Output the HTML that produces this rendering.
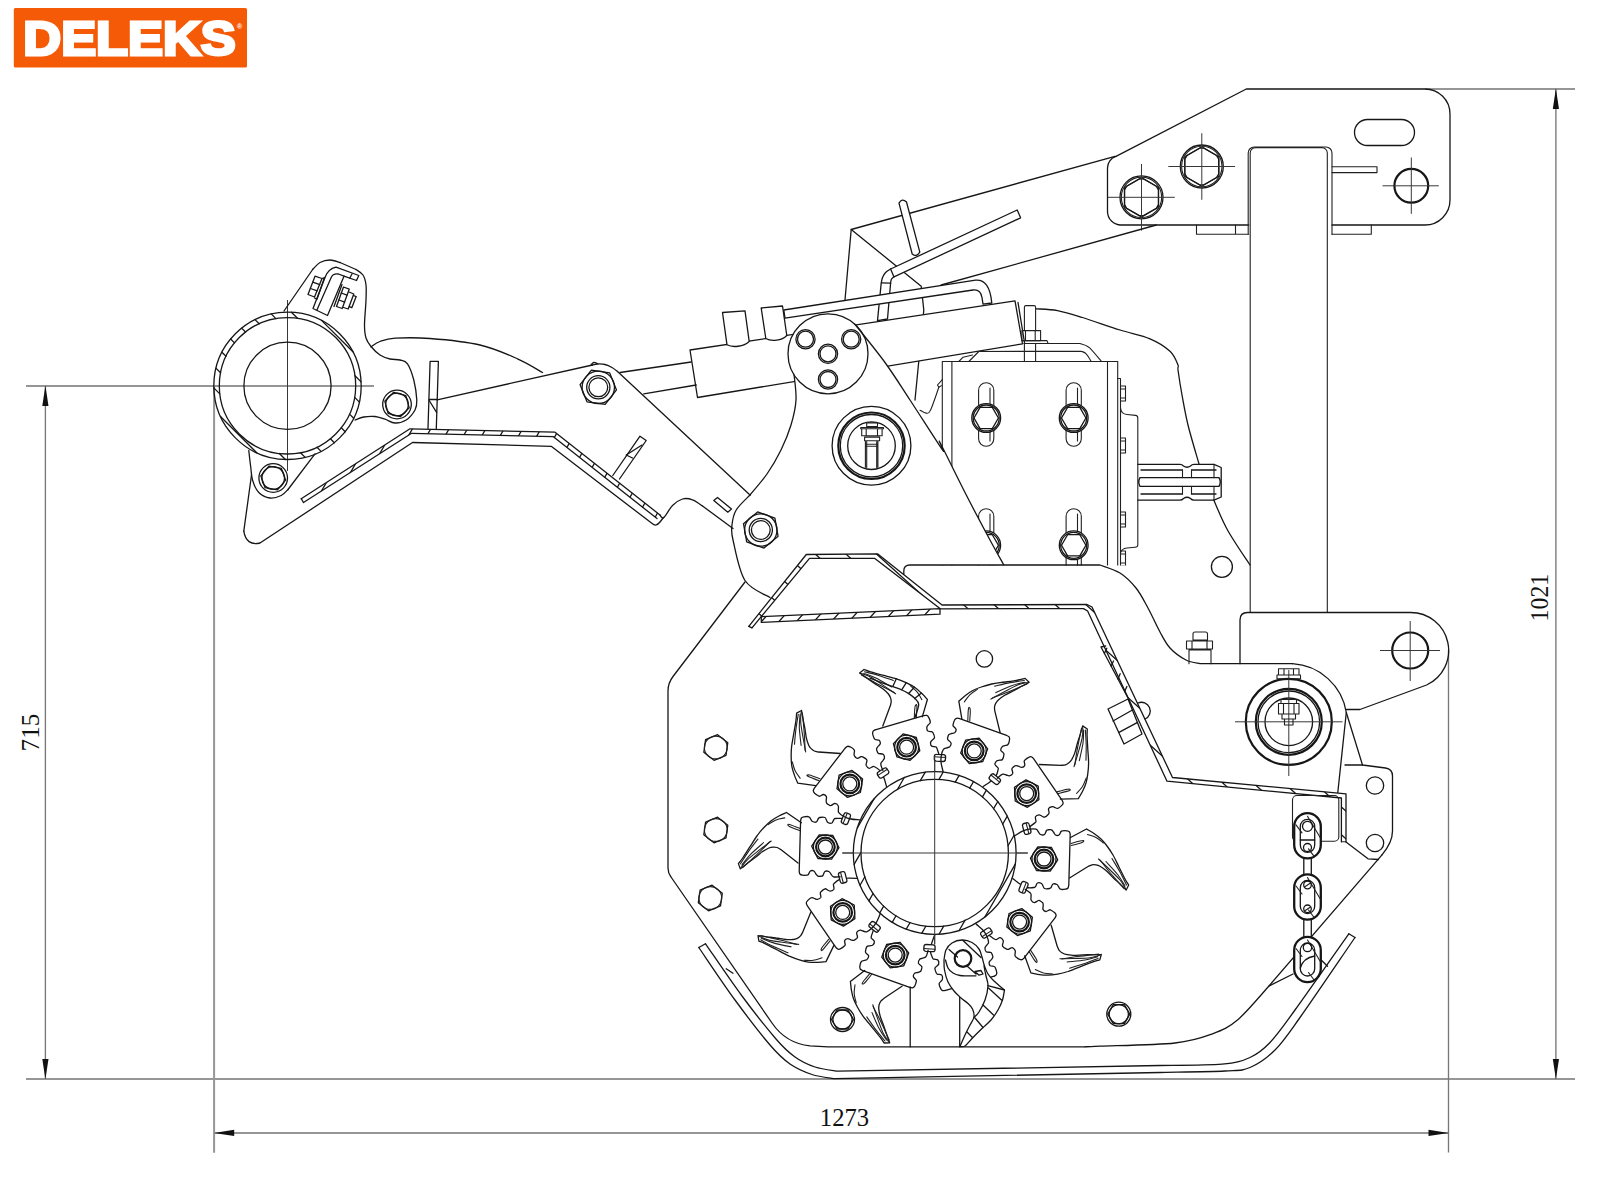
<!DOCTYPE html>
<html><head><meta charset="utf-8"><title>DELEKS</title>
<style>
html,body{margin:0;padding:0;background:#fff;}
body{width:1600px;height:1200px;overflow:hidden;position:relative;font-family:"Liberation Sans",sans-serif;}
svg{position:absolute;left:0;top:0;display:block;}
svg path, svg circle, svg rect, svg ellipse{fill:none;stroke:#161616;stroke-width:1.3;stroke-linecap:round;stroke-linejoin:round;}
svg .w{fill:#fff;}
svg .th{stroke-width:1.1;stroke:#202020;}
svg .dim{stroke:#969696;stroke-width:2;stroke-linecap:butt;}
svg .dimv{stroke:#787878;stroke-width:1.35;stroke-linecap:butt;}
svg .cl{stroke:#383838;stroke-width:1;stroke-linecap:butt;}
svg .tk{stroke-width:2.2;}
svg .arrow{fill:#111;stroke:none;}
svg .logo{fill:#f55a06;stroke:none;}
svg text{font-family:"Liberation Serif",serif;fill:#111;}
svg .lt{font-family:"Liberation Sans",sans-serif;font-weight:bold;fill:#fff;}
</style></head><body>
<svg width="1600" height="1200" viewBox="0 0 1600 1200">
<!-- p_base -->
<rect class="logo" x="13.8" y="8.1" width="233.2" height="59.3" rx="1.5"/>
<text class="lt" x="23.3" y="55.4" font-size="47.3" textLength="212.5" lengthAdjust="spacingAndGlyphs" stroke="#fff" stroke-width="3" stroke-linejoin="miter">DELEKS</text>
<text class="lt" x="237" y="28.5" font-size="7" stroke="none">®</text>
<path class="dim" d="M26 386 L374 386 M26 1079 L1575 1079 M214.1 1132.9 L1448.5 1132.9 M1425 89 L1575 89 M214.1 386 L214.1 1152.8"/>
<path class="dimv" d="M45.4 386 L45.4 1079 M1448.5 650 L1448.5 1152.5 M1555.9 89 L1555.9 1079"/>
<path class="arrow" d="M45.4 385.6 L48.5 405.9 L42.3 405.9 Z"/>
<path class="arrow" d="M45.4 1079.3 L42.3 1059 L48.5 1059 Z"/>
<path class="arrow" d="M1555.9 88.6 L1559 108.9 L1552.8 108.9 Z"/>
<path class="arrow" d="M1555.9 1079.3 L1552.8 1059 L1559 1059 Z"/>
<path class="arrow" d="M213.9 1132.9 L234.2 1129.8 L234.2 1136 Z"/>
<path class="arrow" d="M1448.8 1132.9 L1428.5 1136 L1428.5 1129.8 Z"/>
<text x="844.5" y="1125.8" font-size="26" text-anchor="middle" textLength="49.3" lengthAdjust="spacingAndGlyphs">1273</text>
<text transform="translate(38.8 732.6) rotate(-90)" font-size="26" text-anchor="middle" textLength="37.6" lengthAdjust="spacingAndGlyphs">715</text>
<text transform="translate(1548.2 597.6) rotate(-90)" font-size="26" text-anchor="middle" textLength="47.6" lengthAdjust="spacingAndGlyphs">1021</text>
<!-- p_roller -->
<path class="cl" d="M287.5 300 L287.5 471"/>
<circle cx="287.5" cy="385.8" r="73.7"/>
<circle cx="287.5" cy="385.8" r="68.2"/>
<circle cx="287.5" cy="385.8" r="43.6"/>
<path d="M321.5 320.4 L352.9 351.8 M291.4 312.2 L297.5 318.3 M355 375.8 L361.1 381.9 M271.2 313.9 L275.9 318.6 M354.7 397.4 L359.4 402.1 M255 319.6 L259.2 323.8 M349.5 414.1 L353.7 418.3 M241.6 328.1 L245.5 332 M341.3 427.8 L345.2 431.7 M230.6 339 L234.5 342.9 M330.4 438.8 L334.3 442.7 M221.9 352.2 L226 356.3 M317 447.3 L321.1 451.4 M215.9 368.1 L220.6 372.8 M300.5 452.7 L305.2 457.4 M213.8 387.9 L219.8 393.9 M279.4 453.5 L285.4 459.5 M220.5 416.5 L256.8 452.8"/>
<path d="M284 311 L313 269"/>
<path d="M313 269 C314.2 267.9 317.2 264 320 262.5 C322.8 261 326.7 260 330 260 C333.3 260 338.3 262.1 340 262.5"/>
<path d="M340 262.5 L356 269.5"/>
<path d="M356 269.5 C357.2 270.4 361.3 272.4 363 275 C364.7 277.6 365.5 280.8 366 285 C366.5 289.2 366.2 293.3 366 300 C365.8 306.7 364.5 318.7 364.5 325 C364.5 331.3 364.9 334.4 366 338 C367.1 341.6 368.7 343.7 371 346.5 C373.3 349.3 376.8 352.9 380 355 C383.2 357.1 386.7 358.2 390 359 C393.3 359.8 397.1 359.2 400 360 C402.9 360.8 405.2 360.4 407.5 363.8 C409.8 367.1 412.2 374 413.8 380 C415.3 386 416.5 395 416.8 400 C417 405 416.8 406.7 415 410 C413.2 413.3 409.6 417.8 406.2 420 C402.9 422.2 398.5 423.1 395 423 C391.5 422.9 388.3 420.3 385 419.2 C381.7 418.2 378.5 416.9 375 416.5 C371.5 416.1 367.1 416.4 363.8 417 C360.4 417.6 356.5 419.5 355 420"/>
<circle cx="397" cy="404.5" r="14.3"/>
<circle cx="397" cy="404.5" r="11.3"/>
<path d="M409.2 407.8 L400.3 416.7 L388.1 413.4 L384.8 401.2 L393.7 392.3 L405.9 395.6Z"/>
<path d="M313 308.5 L325 277.5 Q328 269 336 267.2 L358.8 275.5 L356.5 280.5 L344 276.2 L327.5 315.5 Z"/>
<path d="M316.8 310.2 L331.2 277.5 Q333 273.2 338.5 274 L344 276.2"/>
<path d="M352 274 L349.7 278.2"/>
<path d="M315 276.2 L322 278.5 L314.5 297 L308 294.5Z"/>
<path d="M312.8 282.2 L319.8 284.6M310.5 288.5 L317.2 290.8"/>
<path d="M322 278.5 L324.5 277.5 L317 299.2 L314.5 298"/>
<path d="M343.5 287 L349.2 289.2 L342.2 308.5 L336.5 306.5Z"/>
<path d="M341.2 293 L347 295.2M339 300 L344.6 302.2"/>
<path d="M342 284.5 L334 306.5"/>
<path d="M349 292 L353.8 294 L348.2 309 L343.5 307.5"/>
<path d="M353.5 295.5 L356.2 296.6 L351.8 307.7 L349.2 306.7"/>
<path d="M248.8 450.5 C249.1 453.3 250.1 462.6 250.8 467.5 C251.4 472.4 251.2 475.8 252.5 480 C253.8 484.2 255.8 489.5 258.8 492.5 C261.7 495.5 266.2 497.5 270 498 C273.8 498.5 278.2 496.9 281.2 495.5 C284.2 494.1 286.9 490.5 288 489.5"/>
<path d="M288 489.5 L315 453.8"/>
<circle cx="273.2" cy="478" r="14.3"/>
<circle cx="273.2" cy="478" r="11.3"/>
<path d="M285.6 480.2 L277.5 489.8 L265.1 487.7 L260.8 475.8 L268.9 466.2 L281.3 468.3Z"/>
<path d="M251.5 475 L243.8 531.2"/>
<!-- p_hood -->
<path d="M301.2 498.7 L410 428.8 L555 432.2 L660 515"/>
<path d="M303.5 502.5 L411.6 433.3 L553.4 436.7 L657 518.6"/>
<path d="M301.2 498.7 L303.5 502.5"/>
<clipPath id="hc1"><path d="M301.2 498.7 L410 428.8 L555 432.2 L660 515 L657 518.6 L553.4 436.7 L411.6 433.3 L303.5 502.5Z"/></clipPath><path clip-path="url(#hc1)" d="M233.9 547.1 L420.9 223.4 M247.7 555.1 L434.6 231.3 M261.5 563 L448.4 239.3 M275.3 571 L462.2 247.2 M289 578.9 L476 255.2 M302.8 586.9 L489.7 263.1 M316.6 594.8 L503.5 271.1 M330.3 602.8 L517.3 279 M344.1 610.7 L531 287 M357.9 618.7 L544.8 294.9 M371.6 626.6 L558.6 302.9 M385.4 634.6 L572.3 310.8 M399.2 642.5 L586.1 318.8 M412.9 650.5 L599.9 326.7 M426.7 658.4 L613.7 334.7 M440.5 666.4 L627.4 342.6 M454.3 674.3 L641.2 350.6 M468 682.3 L655 358.5 M481.8 690.2 L668.7 366.5 M495.6 698.2 L682.5 374.4 M509.3 706.1 L696.3 382.4 M523.1 714.1 L710 390.3 M536.9 722 L723.8 398.3"/>
<path d="M243.8 531.2 Q246.2 546.2 260 543 L412.5 442.5 L551.2 446.3 L652.5 523.8 Q656 527 660 522 L663.5 517.5"/>
<path d="M428 428.5 L430.1 361.3 L438.4 361.3 L436.3 428.7"/>
<path d="M429.2 399.5 L437.2 399.5 M429.2 400.5 L436.6 412.4"/>
<path d="M371 346.8 C372.5 345.9 376 342.9 380 341.5 C384 340.1 386.7 338.7 395 338.2 C403.3 337.7 415.8 337.4 430 338.5 C444.2 339.6 465.4 341.6 480 345 C494.6 348.4 507.1 354.2 517.5 358.8 C527.9 363.3 538.3 370.2 542.5 372.5"/>
<path d="M612.8 475.5 L640 436.2 L646.2 440.5 L619.5 479"/>
<path d="M626.2 455 L632.5 458M626.2 455 L642 445"/>
<!-- p_top -->
<path d="M1116 156.4 L1246.3 89 L1425 89 A25 25 0 0 1 1450 114 L1450 200 A25 25 0 0 1 1425 225 L1332 225"/>
<path d="M1248.7 225 L1121 225 A13.5 13.5 0 0 1 1107.5 211.5 L1107.5 168 A12 12 0 0 1 1116 156.4"/>
<path class="th" d="M1250.2 612.5 L1250.2 153 A5.5 5.5 0 0 1 1255.7 147.6 L1321.8 147.6 A5.5 5.5 0 0 1 1327.3 153 L1327.3 612.5"/>
<path class="th" d="M1248.2 234 L1248.2 153 A6 6 0 0 1 1254.2 147 L1326 147 A6 6 0 0 1 1332 153 L1332 234.3"/>
<path class="th" d="M1248.7 234.2 L1196.5 234.2 L1196.5 225 M1235.5 225 L1235.5 234.2"/>
<path class="th" d="M1332 234.3 L1371.3 234.3 L1371.3 225"/>
<path class="th" d="M1332 166.8 L1377 166.8 L1377 172.6 L1332 172.6"/>
<rect x="1354.5" y="119.5" width="60" height="26" rx="13"/>
<circle class="tk" cx="1411.3" cy="185.8" r="16.9"/>
<path class="cl" d="M1382.5 185.8 L1438.8 185.8 M1411.3 157.5 L1411.3 213.8"/>
<circle cx="1141.5" cy="197.3" r="21.5"/>
<circle class="th" cx="1141.5" cy="197.3" r="20.2"/>
<path class="th" d="M1141.5 177.6 L1158.6 187.5 L1158.6 207.2 L1141.5 217 L1124.4 207.2 L1124.4 187.5Z"/>
<path d="M1158.4 190 L1158.4 204.6 A18.4 18.4 0 0 1 1156.3 208.3 L1143.6 215.6 A18.4 18.4 0 0 1 1139.4 215.6 L1126.7 208.3 A18.4 18.4 0 0 1 1124.6 204.6 L1124.6 190 A18.4 18.4 0 0 1 1126.7 186.3 L1139.4 179 A18.4 18.4 0 0 1 1143.6 179 L1156.3 186.3 A18.4 18.4 0 0 1 1158.4 190 Z"/>
<path class="cl" d="M1108 197.3 L1174.8 197.3 M1141.5 164 L1141.5 230.6"/>
<circle cx="1201.8" cy="166.5" r="21.5"/>
<circle class="th" cx="1201.8" cy="166.5" r="20.2"/>
<path class="th" d="M1201.8 146.8 L1218.9 156.7 L1218.9 176.3 L1201.8 186.2 L1184.7 176.3 L1184.7 156.7Z"/>
<path d="M1218.7 159.2 L1218.7 173.8 A18.4 18.4 0 0 1 1216.6 177.5 L1203.9 184.8 A18.4 18.4 0 0 1 1199.7 184.8 L1187 177.5 A18.4 18.4 0 0 1 1184.9 173.8 L1184.9 159.2 A18.4 18.4 0 0 1 1187 155.5 L1199.7 148.2 A18.4 18.4 0 0 1 1203.9 148.2 L1216.6 155.5 A18.4 18.4 0 0 1 1218.7 159.2 Z"/>
<path class="cl" d="M1168.3 166.5 L1235.1 166.5 M1201.8 133.2 L1201.8 199.8"/>
<!-- p_cyl -->
<path d="M1115 156.3 L851.2 229.5 L845 300"/>
<path d="M851.2 229.5 L921.2 286.2 L923.8 310 L915 400"/>
<path d="M1156.3 225 L941.2 285"/>
<path class="w" d="M899 203.1 L912.2 254 Q916.5 257.5 919.8 252.2 L906.5 202 Q901.9 197.8 899 203.1 Z"/>
<path class="w" d="M1017.2 210 L890.6 269 C889.8 269.6 887 271.1 885.6 272.5 C884.3 273.9 883.2 275.7 882.5 277.5 C881.8 279.3 881.5 282.2 881.2 283.1 L877.5 320.6 L887.5 319 L890.6 283.1 C890.7 282.6 890.9 280.6 891.2 279.8 C891.6 278.9 892.3 278.2 892.8 277.8 C893.2 277.3 893.8 277 894 276.9 L1020.6 217.8 Z"/>
<path d="M890.6 269 L894 276.9M881.5 282.8 L890.6 283.2"/>
<path class="w" d="M783.8 310 L975.5 280.2 Q989.5 278.8 991.8 303 L983 304.2 L982 297.5 Q980.5 289 973 290 L785 318.2 Z"/>
<path class="w" d="M690 350 L1015 300.8 L1022.5 343.8 L697.5 397.5Z"/>
<path d="M1018 302.5 L1024.5 342.5"/>
<path class="w" d="M727 344.8 L722.5 312.5 L745 310.8 L749.2 341.5 C743.8 346.8 732.5 347.8 727 344.8"/>
<path class="w" d="M765.8 338.5 L761.2 308 L782.5 306 L786.8 335.5 C782 340.8 771.2 341.8 765.8 338.5"/>
<path d="M620 372.5 L691.2 362M643.8 393.8 L696.2 385"/>
<!-- p_gearbox -->
<path d="M1036.2 308.8 C1039.8 309.1 1049.8 309.2 1057.5 310.6 C1065.2 312.1 1072.1 314.3 1082.5 317.5 C1092.9 320.7 1108.8 326.5 1120 330 C1131.2 333.5 1141.7 335.2 1150 338.8 C1158.3 342.3 1165.3 346.9 1170 351.2 C1174.7 355.6 1176.7 361.9 1178 365 C1179.3 368.1 1177.3 365 1178 370 C1178.7 375 1180.3 385.8 1182 395 C1183.7 404.2 1185.2 413.5 1188 425 C1190.8 436.5 1197.2 457.5 1199 464"/>
<path d="M1213.8 500 C1216 505 1221.5 519.2 1227.5 530 C1233.5 540.8 1246.2 559.2 1250 565"/>
<path class="th" d="M1024.4 330.6 L1024.4 307 Q1024.4 305.6 1026 305.6 L1034 305.6 Q1035.6 305.6 1035.6 307 L1035.6 330.6"/>
<path class="th" d="M1021.9 330.6 L1040.6 330.6 L1040.6 340.6 L1021.9 340.6 Z M1035.2 330.6 L1035.2 340.6 M1025.5 330.6 L1025.5 340.6"/>
<path class="th" d="M1022.5 340.6 L1047 340.6 L1048 343.2"/>
<path class="th" d="M1024.4 343.8 L1024.4 361.5 M1035.6 343.8 L1035.6 361.5"/>
<path class="th" d="M1023.8 343.5 L1080 343.5 C1081.5 344.1 1085.2 344.3 1088.8 347.2 C1092.3 350.2 1099.2 358.9 1101.2 361.2"/>
<path class="th" d="M968.8 361.5 L978.8 351.5 L1081.2 351.2 C1082.1 351.7 1084.6 352 1086.2 353.8 C1087.9 355.5 1090.4 360.2 1091.2 361.5"/>
<path class="th" d="M958.8 361.5 L963.1 357.2 L972.5 355"/>
<path class="th" d="M942.3 575 L942.3 361.5 L1117.7 361.5 L1117.7 575 M951.9 361.5 L951.9 575 M1107.5 361.5 L1107.5 575"/>
<path class="th" d="M978.6 438.7 L978.6 390.3 A7.6 7.6 0 0 1 993.8 390.3 L993.8 438.7 A7.6 7.6 0 0 1 978.6 438.7 Z"/>
<path class="th" d="M990 388 L990 441"/>
<path class="th" d="M978.6 566.4 L978.6 516.3 A7.6 7.6 0 0 1 993.8 516.3 L993.8 566.4 A7.6 7.6 0 0 1 978.6 566.4 Z"/>
<path class="th" d="M990 514 L990 570"/>
<circle class="w" cx="986.2" cy="418" r="14.4"/>
<circle cx="986.2" cy="418" r="13"/>
<path d="M998.4 418 L992.3 428.6 L980.1 428.6 L974 418 L980.1 407.4 L992.3 407.4Z"/>
<circle class="w" cx="986.2" cy="545.3" r="14.4"/>
<circle cx="986.2" cy="545.3" r="13"/>
<path d="M998.4 545.3 L992.3 555.9 L980.1 555.9 L974 545.3 L980.1 534.7 L992.3 534.7Z"/>
<path class="th" d="M1066.1 438.7 L1066.1 390.3 A7.6 7.6 0 0 1 1081.3 390.3 L1081.3 438.7 A7.6 7.6 0 0 1 1066.1 438.7 Z"/>
<path class="th" d="M1077.5 388 L1077.5 441"/>
<path class="th" d="M1066.1 566.4 L1066.1 516.3 A7.6 7.6 0 0 1 1081.3 516.3 L1081.3 566.4 A7.6 7.6 0 0 1 1066.1 566.4 Z"/>
<path class="th" d="M1077.5 514 L1077.5 570"/>
<circle class="w" cx="1073.7" cy="418" r="14.4"/>
<circle cx="1073.7" cy="418" r="13"/>
<path d="M1085.9 418 L1079.8 428.6 L1067.6 428.6 L1061.5 418 L1067.6 407.4 L1079.8 407.4Z"/>
<circle class="w" cx="1073.7" cy="545.3" r="14.4"/>
<circle cx="1073.7" cy="545.3" r="13"/>
<path d="M1085.9 545.3 L1079.8 555.9 L1067.6 555.9 L1061.5 545.3 L1067.6 534.7 L1079.8 534.7Z"/>
<path class="th" d="M1117.7 378.5 L1120.5 378.5 L1120.5 575"/>
<path class="th" d="M1120.5 386 L1125.5 386 L1125.5 401 L1120.5 401 M1120.5 389 L1125.5 389 M1120.5 398 L1125.5 398"/>
<path class="th" d="M1120.5 438 L1125.5 438 L1125.5 453 L1120.5 453 M1120.5 441 L1125.5 441 M1120.5 450 L1125.5 450"/>
<path class="th" d="M1120.5 512 L1125.5 512 L1125.5 527 L1120.5 527 M1120.5 515 L1125.5 515 M1120.5 524 L1125.5 524"/>
<path class="th" d="M1120.5 551 L1125.5 551 L1125.5 566 L1120.5 566 M1120.5 554 L1125.5 554 M1120.5 563 L1125.5 563"/>
<path class="th" d="M1120.5 408 Q1121 414 1127 414.5 L1135.5 415.4 Q1137.8 415.6 1137.8 418 L1137.8 545 Q1137.8 547 1135 547.3 L1127 548 Q1121.5 548.5 1120.5 553"/>
<path d="M1137.8 464.3 L1180 464.3 Q1182 464.3 1183.5 466 Q1187 468.5 1190.5 466 Q1192 464.3 1194 464.3 L1214 464.3 L1221.2 467.5 L1221.2 497 L1214 500.2 L1194 500.2 Q1192 500.2 1190.5 498.5 Q1187 496 1183.5 498.5 Q1182 500.2 1180 500.2 L1137.8 500.2"/>
<path d="M1141 470 L1182.5 470 M1191.5 470 L1216 470 M1141 494 L1182.5 494 M1191.5 494 L1216 494"/>
<path d="M1140 477.6 L1219 477.6 Q1221.5 482 1219 486.4 L1140 486.4 Q1137.5 482 1140 477.6"/>
<path class="th" d="M1182.5 470 L1182.5 477.6 M1191.5 470 L1191.5 477.6 M1182.5 486.4 L1182.5 494 M1191.5 486.4 L1191.5 494 M1214 464.3 L1214 477.6 M1214 486.4 L1214 500.2"/>
<circle cx="1221.9" cy="566.8" r="10.5"/>
<path class="th" d="M942.5 379.4 L937.5 385 L938.8 387.2 L941.5 385.6"/>
<path class="th" d="M938.8 387.5 C937.4 391.2 932.7 405.7 930.6 410 C928.5 414.3 928 413.1 926.2 413.1 C924.5 413.2 921 410.7 920 410.2"/>
<!-- p_plate -->
<path d="M794.1 375 C794.4 379.2 796.5 391.7 796 400 C795.5 408.3 793.5 416.7 791 425 C788.5 433.3 785 441.8 781 450 C777 458.2 772.2 466.5 767 474 C761.8 481.5 752.8 491.5 750 495 C747.7 497.5 739.2 505 736.2 510 C733.2 515 732.5 520 732 525 C731.5 530 730.8 530.8 733 540 C735.2 549.2 738.8 570.9 745 580.5 C751.2 590.1 765.8 594.7 770 597.5 L806.3 554.5 L877.5 553.8 L905 575 L905 565 L1003.8 565 C1001.5 560.8 996.5 552.1 990 540 C983.5 527.9 973.3 508.8 965 492.5 C956.7 476.2 943.8 449.6 940 442.5 C936.2 435.4 947.5 457.1 942.5 450 C937.5 442.9 919.6 414.6 910 400 C900.4 385.4 894.2 375.2 885 362.5 C875.8 349.8 859.8 330.5 854.8 324.1 A40 40 0 0 0 794.1 375 Z" style="fill:#fff;stroke:none"/>
<path d="M794.1 375 C794.4 379.2 796.5 391.7 796 400 C795.5 408.3 793.5 416.7 791 425 C788.5 433.3 785 441.8 781 450 C777 458.2 772.2 466.5 767 474 C761.8 481.5 752.8 491.5 750 495"/>
<path d="M750 495 C747.7 497.5 739.2 505 736.2 510 C733.2 515 732.5 520 732 525 C731.5 530 730.8 530.8 733 540 C735.2 549.2 738.8 570.9 745 580.5 C751.2 590.1 765.8 594.7 770 597.5"/>
<path d="M854.8 324.1 C859.8 330.5 875.8 349.8 885 362.5 C894.2 375.2 900.4 385.4 910 400 C919.6 414.6 937.5 442.9 942.5 450 C947.5 457.1 936.2 435.4 940 442.5 C943.8 449.6 956.7 476.2 965 492.5 C973.3 508.8 983.5 527.9 990 540 C996.5 552.1 1001.5 560.8 1003.8 565"/>
<circle cx="828" cy="353.8" r="40"/>
<circle cx="805.5" cy="339.2" r="9.6"/>
<circle cx="805.5" cy="339.2" r="8"/>
<circle cx="851.2" cy="339.2" r="9.6"/>
<circle cx="851.2" cy="339.2" r="8"/>
<circle cx="828" cy="353.8" r="9.6"/>
<circle cx="828" cy="353.8" r="8"/>
<circle cx="828" cy="379.5" r="9.6"/>
<circle cx="828" cy="379.5" r="8"/>
<path d="M778.1 536.3 L764 548.1 L746.7 541.8 L743.5 523.7 L757.6 511.9 L774.9 518.2Z"/>
<circle cx="760.8" cy="530" r="16.2"/>
<circle cx="760.8" cy="530" r="11.6"/>
<circle cx="760.8" cy="530" r="9.4"/>
<circle class="w" cx="871.5" cy="445.7" r="39.4"/>
<circle class="tk" cx="871.5" cy="445.7" r="33.2"/>
<circle cx="871.5" cy="445.7" r="31.2"/>
<circle cx="871.5" cy="445.7" r="23.8"/>
<path class="th" d="M866.7 422.9 L877.5 422.9 L877.5 426.5 L866.7 426.5 ZM860.7 427.5 L883.5 427.5 L883.5 428.8 L860.7 428.8 ZM861.7 428.8 L882.1 428.8 L882.1 435.8 L861.7 435.8 ZM864.6 437.1 L879.6 437.1 L879.6 440.7 L864.6 440.7 Z M866.2 428.8 L866.2 435.8M877.5 428.8 L877.5 435.8 M865.4 440.7 L865.4 467.3M877.9 440.7 L877.9 467.3M866.7 441.7 L866.7 467.7M876.7 441.7 L876.7 467.7 M865.4 444.2 L877.9 444.2M865.4 446.2 L877.9 446.2"/>
<!-- p_arm -->
<path d="M437.2 399.8 L592.5 365"/>
<path d="M592.5 365 C593.3 364.8 595.4 364.1 597.5 364 C599.6 363.9 602.6 363.9 605 364.5 C607.4 365.1 609.9 366.3 612 367.5 C614.1 368.7 616.6 370.8 617.5 371.5"/>
<path d="M617.5 371.5 L750 495"/>
<path d="M660 515 C660.6 515.4 661.7 519.1 663.8 517.5 C665.8 515.9 669.4 508.6 672.5 505.5 C675.6 502.4 679.2 500 682.5 499 C685.8 498 689.2 498.6 692.5 499.8 C695.8 500.9 700.8 505 702.5 506"/>
<path d="M702.5 506 L733 528.5"/>
<path d="M713.8 500.5 L717.5 497.5 L731.5 509 L727.8 512.2Z"/>
<path d="M591.2 364.5 C591.7 364.2 592.7 362.7 593.8 362.5 C594.8 362.3 596.9 363.3 597.5 363.5"/>
<path d="M616.5 389.9 L605.2 404.4 L587 401.8 L580.1 384.7 L591.4 370.2 L609.6 372.8Z"/>
<circle cx="598.3" cy="387.3" r="16.2"/>
<circle cx="598.3" cy="387.3" r="11.6"/>
<circle cx="598.3" cy="387.3" r="9.4"/>
<!-- p_body -->
<path d="M904.5 565.6 L1126 565.6 L1126 603 L945 603 L905 573 Z" style="fill:#fff;stroke:none"/>
<path d="M903.8 574.2 L903.8 571 Q903.8 565 910 565 L1100 565 C1103.3 566.3 1114 569.2 1120 573 C1126 576.8 1131.3 582.2 1136 588 C1140.7 593.8 1144 600.7 1148 608 C1152 615.3 1156.3 625.3 1160 632 C1163.7 638.7 1165.7 643.3 1170 648 C1174.3 652.7 1181 657.4 1186 660 C1191 662.6 1197.7 663 1200 663.6 L1292.5 663.7"/>
<path d="M745 582 L673 676.5 Q668 683 668 691 L668 868 Q668 873 671 877 L772 1023 Q786 1043.5 810 1045.8 L828 1046.8 L1085 1046.8"/>
<path d="M1085 1046.8 C1087.5 1046.7 1085 1046.9 1100 1046.2 C1115 1045.6 1156.2 1045.1 1175 1043 C1193.8 1040.9 1202.1 1037.6 1212.5 1033.8 C1222.9 1029.9 1228.1 1027.9 1237.5 1020 C1246.9 1012.1 1263.5 991.9 1268.8 986.2 L1382 854.8"/>
<path d="M748.8 626.3 L806.3 554.5 L877.5 553.8 L942 605 L1087 604.5 L1092 607 L1172.5 777.5 L1346 793.8 L1346 841.8"/>
<path d="M752 627.8 L809.5 558.3 L874.5 558.3 L940.3 608.8 L1083.5 608.6 L1087.6 611 L1167 781.2 L1341.4 798 L1341.4 841.8"/>
<path d="M748.8 626.3 L752 627.8"/>
<clipPath id="hc2"><path d="M748.8 626.3 L806.3 554.5 L877.5 553.8 L942 605 L1087 604.5 L1092 607 L1172.5 777.5 L1346 793.8 L1346 841.8 L1341.4 841.8 L1341.4 798 L1167 781.2 L1087.6 611 L1083.5 608.6 L940.3 608.8 L874.5 558.3 L809.5 558.3 L752 627.8Z"/></clipPath><path clip-path="url(#hc2)" d="M1014 236.5 L1509.7 682.8 M1000.3 251.7 L1496 698 M986.6 266.9 L1482.3 713.2 M972.9 282.2 L1468.6 728.5 M959.1 297.4 L1454.8 743.7 M945.4 312.6 L1441.1 758.9 M931.7 327.9 L1427.4 774.2 M918 343.1 L1413.7 789.4 M904.3 358.3 L1400 804.7 M890.6 373.6 L1386.3 819.9 M876.8 388.8 L1372.5 835.1 M863.1 404 L1358.8 850.4 M849.4 419.3 L1345.1 865.6 M835.7 434.5 L1331.4 880.8 M822 449.7 L1317.7 896.1 M808.3 465 L1304 911.3 M794.5 480.2 L1290.2 926.5 M780.8 495.4 L1276.5 941.8 M767.1 510.7 L1262.8 957 M753.4 525.9 L1249.1 972.2 M739.7 541.1 L1235.4 987.5 M726 556.4 L1221.6 1002.7 M712.2 571.6 L1207.9 1017.9 M698.5 586.8 L1194.2 1033.2 M684.8 602.1 L1180.5 1048.4 M671.1 617.3 L1166.8 1063.6 M657.4 632.5 L1153.1 1078.9 M643.7 647.8 L1139.3 1094.1 M629.9 663 L1125.6 1109.3 M616.2 678.3 L1111.9 1124.6 M602.5 693.5 L1098.2 1139.8 M588.8 708.7 L1084.5 1155"/>
<path d="M761.3 616.6 L940 608.6 M761.3 622.4 L940 614.2 M761.3 616.6 L761.3 622.4 M940 608.6 L940 614.2"/>
<clipPath id="hc3"><path d="M761.3 616.6 L940 608.6 L940 614.2 L761.3 622.4Z"/></clipPath><path clip-path="url(#hc3)" d="M723.8 624.5 L846.4 488.4 M733.4 633.2 L856 497.1 M743.1 641.9 L865.7 505.8 M752.7 650.6 L875.3 514.5 M762.4 659.3 L885 523.2 M772.1 668 L894.7 531.9 M781.7 676.7 L904.3 540.6 M791.4 685.4 L914 549.3 M801 694.1 L923.7 558 M810.7 702.8 L933.3 566.6 M820.4 711.5 L943 575.3 M830 720.2 L952.6 584 M839.7 728.9 L962.3 592.7 M849.4 737.6 L972 601.4"/>
<path d="M1105.6 646 L1101 647 L1128 698"/>
<path d="M1104.4 653.4 L1106.8 648.3 M1111.1 666.1 L1113.5 661 M1117.9 678.9 L1120.2 673.8 M1124.6 691.6 L1126.9 686.5"/>
<path d="M1108 709 L1128 699 L1142 734 L1124 744Z"/>
<path d="M1113 721 L1132.4 710M1119 732.4 L1137.6 722.4"/>
<path d="M1138 703 A6.4 6.4 0 0 1 1145 719"/>
<circle cx="984.4" cy="658.9" r="8.2"/>
<path d="M717.6 734.7 L727.8 742.7 L726 755.4 L714 760.3 L703.8 752.3 L705.6 739.6Z"/>
<circle class="th" cx="715.8" cy="747.5" r="11.4"/>
<path d="M717.6 817.2 L727.8 825.2 L726 837.9 L714 842.8 L703.8 834.8 L705.6 822.1Z"/>
<circle class="th" cx="715.8" cy="830" r="11.4"/>
<path d="M712.1 885.2 L722.3 893.2 L720.5 905.9 L708.5 910.8 L698.3 902.8 L700.1 890.1Z"/>
<circle class="th" cx="710.3" cy="898" r="11.4"/>
<circle cx="842.5" cy="1019.5" r="12"/>
<circle cx="842.5" cy="1019.5" r="9.6"/>
<path d="M853.5 1019.5 L848 1029 L837 1029 L831.5 1019.5 L837 1010 L848 1010Z"/>
<circle cx="1118.8" cy="1014.2" r="12"/>
<circle cx="1118.8" cy="1014.2" r="9.6"/>
<path d="M1129.8 1014.2 L1124.3 1023.7 L1113.3 1023.7 L1107.8 1014.2 L1113.3 1004.7 L1124.3 1004.7Z"/>
<path d="M910.2 987 L910.2 1046.8 M959.7 996 L959.7 1046.8"/>
<path d="M698.8 947.5 C704.8 956.2 723.1 983.8 735 1000 C746.9 1016.2 760.8 1034.3 770 1045 C779.2 1055.7 783 1059.1 790 1064 C797 1068.9 804.5 1072 812 1074.5 C819.5 1077 831.2 1078 835 1078.7 L1160 1072.5 C1170.8 1072.2 1210 1071.8 1225 1071 C1240 1070.2 1241.7 1071 1250 1067.5 C1258.3 1064 1266.7 1058.3 1275 1050 C1283.3 1041.7 1286.7 1036.2 1300 1017.5 C1313.3 998.8 1345.8 950.8 1355 937.5"/>
<path d="M705.5 943.8 C711.6 952.5 730.2 980.1 742 996 C753.8 1011.9 767.2 1028.8 776 1039 C784.8 1049.2 788.5 1052.3 795 1057 C801.5 1061.7 807.8 1064.6 815 1067 C822.2 1069.4 834.2 1070.5 838 1071.2 L1160 1065.5 C1170.3 1065.3 1207 1065.5 1222 1064.2 C1237 1062.9 1242 1061.1 1250 1057.5 C1258 1053.9 1262.5 1050.4 1270 1042.5 C1277.5 1034.6 1281.9 1028.1 1295 1010 C1308.1 991.9 1339.8 946.5 1348.8 933.8"/>
<path d="M698.8 947.5 L705.5 943.8M1355 937.5 L1348.8 933.8"/>
<path d="M726.2 968.8 L733 973.2M726.2 968.8 L733 973.2"/>
<!-- p_right -->
<path d="M1240 663.7 L1240 620 Q1240 612.5 1247.5 612.5 L1410.5 612.5 A38 38 0 0 1 1426.6 685 L1360 709.5 L1346.5 709.5"/>
<circle class="tk" cx="1410.2" cy="650.5" r="18"/>
<path class="cl" d="M1380 650.5 L1440 650.5 M1410.2 621 L1410.2 681"/>
<path d="M1292.5 663.7 A58 58 0 0 1 1346.3 712.5 L1337.8 792.5"/>
<path d="M1346.3 712.5 L1362.5 765 L1385.5 768 Q1392.5 769 1392.5 776 L1392.5 831 Q1392.5 842.4 1382 854.8"/>
<path d="M1345 765 L1362.5 765"/>
<path d="M1346 842 L1368 858.8 L1378.5 859.5"/>
<circle cx="1375" cy="785.5" r="8.7"/>
<circle cx="1375" cy="843" r="8.7"/>
<circle class="tk" cx="1288.8" cy="721.8" r="43"/>
<circle class="tk" cx="1288.8" cy="721.8" r="33"/>
<circle cx="1288.8" cy="721.8" r="30.8"/>
<circle cx="1288.8" cy="721.8" r="23.8"/>
<path class="cl" d="M1235 721.8 L1342.5 721.8 M1288.8 670 L1288.8 776"/>
<path class="th" d="M1278.5 668.8 L1299 668.8 L1299 675 L1278.5 675 Z M1284 668.8 L1284 675 M1293.5 668.8 L1293.5 675 M1277 675 L1300.5 675 L1300.5 678.8 L1277 678.8 Z"/>
<path class="th" d="M1278.5 703.5 L1299 703.5 L1299 714 L1278.5 714 Z M1283.5 703.5 L1283.5 714 M1294 703.5 L1294 714 M1282 714 L1282 719 L1295.5 719 L1295.5 714 M1284.5 719 L1284.5 725 L1293 725 L1293 719 M1281 699.5 L1296.5 699.5 L1296.5 703.5 M1281 699.5 L1281 703.5"/>
<path class="th" d="M1193 640 L1193 634 Q1193 632 1195 632 L1205.5 632 Q1207.5 632 1207.5 634 L1207.5 640 Z M1186.5 641 L1212.5 641 L1212.5 649 L1186.5 649 Z M1192 641 L1192 649 M1207 641 L1207 649 M1189 650 L1189 663.7 M1211 650 L1211 663.7 M1189 650 L1211 650"/>
<rect class="th" x="1292.5" y="795.5" width="46.3" height="45.8" rx="4.5"/>
<path class="th" d="M1341.4 841.8 L1346 841.8"/>
<path d="M1303.8 856 L1303.8 876 M1311.3 856 L1311.3 876 M1303.8 918 L1303.8 938 M1311.3 918 L1311.3 938"/>
<rect class="w" x="1294.2" y="813.2" width="26.6" height="45.2" rx="13.3" style="stroke-width:2.3"/>
<rect x="1300.3" y="819.3" width="14.4" height="33" rx="7.2"/>
<path class="th" d="M1296 824.8 L1302 832.8 M1307.5 816.3 L1321.5 839.8 M1308.5 848.8 L1314.5 856.8"/>
<rect class="w" x="1294.2" y="874.4" width="26.6" height="45.2" rx="13.3" style="stroke-width:2.3"/>
<rect x="1300.3" y="880.5" width="14.4" height="33" rx="7.2"/>
<path class="th" d="M1296 886 L1302 894 M1307.5 877.5 L1321.5 901 M1308.5 910 L1314.5 918"/>
<rect class="w" x="1294.2" y="936.9" width="26.6" height="45.2" rx="13.3" style="stroke-width:2.3"/>
<rect x="1300.3" y="943" width="14.4" height="33" rx="7.2"/>
<path class="th" d="M1296 948.5 L1302 956.5 M1307.5 940 L1321.5 963.5 M1308.5 972.5 L1314.5 980.5"/>
<circle cx="1307.5" cy="826.3" r="5"/>
<circle cx="1307.5" cy="847.5" r="4"/>
<path d="M1300.3 840 L1314.7 840"/>
<circle cx="1307.5" cy="885" r="3.8"/>
<circle cx="1307.5" cy="908.8" r="3.8"/>
<path class="th" d="M1304.5 887 L1310.5 883 M1304.5 911 L1310.5 907"/>
<circle cx="1307.5" cy="947.5" r="4.2"/>
<path d="M1300.3 968 Q1303 958 1314.7 956"/>
<path d="M1268.8 986.2 L1293 974M1321.2 960 L1327.5 966.2"/>
<!-- p_rotor -->
<path class="cl" d="M842.3 853 L1027.8 853 M934.7 756.2 L934.7 944.4"/>
<path class="w" d="M1024.1 823.5 L1026.4 822.9 Q1028.6 822.3 1029.1 824.4 L1030.9 831 Q1031.4 833.1 1029.3 833.7 L1027 834.3 Q1024.9 834.9 1024.3 832.7 L1022.6 826.2 Q1022 824 1024.1 823.5 Z"/>
<path class="th" d="M1026.1 823 L1028.9 833.8"/>
<path d="M1070.5 837.5 L1086.5 829 M1086.5 829 C1087.8 829.8 1091.6 831.8 1094 833.5 C1096.4 835.2 1098.8 836.9 1101 839 C1103.2 841.1 1105 843.3 1107 846 C1109 848.7 1111 851.5 1113 855 C1115 858.5 1117 863 1119 867 C1121 871 1123.4 876 1125 879 C1126.6 882 1128.1 884 1128.7 885 M1128.7 885 L1126.2 890 M1126.2 890 C1125.2 889 1122.2 886.1 1120 884 C1117.8 881.9 1115.3 879.8 1113 877.5 C1110.7 875.2 1108.2 872.4 1106 870.5 C1103.8 868.6 1101.7 867.2 1100 866.2 C1098.3 865.2 1097.3 865 1096 864.8 C1094.7 864.6 1093.3 864.5 1092 864.8 C1090.7 865.1 1088.7 866.2 1088 866.5 M1088 866.5 L1069.5 878"/>
<path class="th" d="M1071 843.5 C1072.5 843.1 1077.9 841.5 1080 841 C1082.1 840.5 1083 840.3 1083.5 840.5 C1084 840.7 1083.8 841.5 1083 842 C1082.2 842.5 1081 842.9 1079 843.5 C1077 844.1 1072.5 845.2 1071.2 845.5"/>
<path class="th" d="M1087.5 834.5 C1088.9 835 1093.3 836.1 1096 837.5 C1098.7 838.9 1102.2 842.1 1103.5 843"/>
<path class="th" d="M1098.5 859 C1100.1 860.5 1104.4 864.5 1108 868 C1111.6 871.5 1117.1 876.6 1120 880 C1122.9 883.4 1124.6 887.1 1125.5 888.5"/>
<path class="th" d="M1106 861.5 C1108 863.8 1114.8 870.9 1118 875 C1121.2 879.1 1123.8 884.2 1125 886"/>
<path class="th" d="M1112 858.5 C1113.3 860.8 1117.6 867.6 1120 872 C1122.4 876.4 1125.4 882.8 1126.5 885"/>
<path class="th" d="M1100 860 C1101.7 862.1 1106 867.8 1110 872.5 C1114 877.2 1121.7 885.8 1124 888.5"/>
<path d="M1015 835.6 C1016.2 834.9 1020.1 832.3 1022.5 831.2 C1024.9 830.1 1027 829.5 1029.2 829.2 C1031.5 828.9 1034.5 828.7 1036 829.2 C1037.5 829.7 1037.8 831.1 1038.5 832 C1039.2 832.9 1039.5 834.1 1040.5 834.5 C1041.5 834.9 1043.5 835.2 1044.5 834.5 C1045.5 833.8 1045.9 831.3 1046.5 830.5 C1047.1 829.7 1047.2 829.9 1048 829.8 C1048.8 829.7 1050.6 829.4 1051.5 829.8 C1052.4 830.2 1052.8 831.1 1053.5 832 C1054.2 832.9 1054.6 834.5 1055.5 835 C1056.4 835.5 1058.1 835.6 1059 835 C1059.9 834.4 1060.4 832.2 1061 831.5 C1061.6 830.8 1061.5 830.9 1062.5 830.8 C1063.5 830.7 1065.8 830.6 1067 830.8 C1068.2 831 1069 831.4 1069.5 832 C1070 832.6 1070.1 834.1 1070.2 834.5 M1070.2 834.5 L1068.8 885 M1068.8 885 C1068.7 885.5 1068.5 887.3 1068 888 C1067.5 888.7 1066.8 889 1065.5 889.2 C1064.2 889.4 1061.7 889.7 1060.5 889.2 C1059.3 888.8 1059.1 887.3 1058.5 886.5 C1057.9 885.7 1057.9 884.9 1057 884.5 C1056.1 884.1 1054 883.5 1053 884 C1052 884.5 1051.6 886.8 1051 887.5 C1050.4 888.2 1050.6 888.3 1049.5 888.5 C1048.4 888.7 1045.6 888.9 1044.5 888.5 C1043.4 888.1 1043.5 886.8 1043 886 C1042.5 885.2 1042.4 884 1041.5 883.5 C1040.6 883 1038.5 882.5 1037.5 883 C1036.5 883.5 1036.1 885.8 1035.5 886.5 C1034.9 887.2 1035.4 887.3 1034 887.5 C1032.6 887.7 1029.3 888.1 1027 887.5 C1024.7 886.9 1022.4 885.5 1020 884 C1017.6 882.5 1014 879.4 1012.8 878.5"/>
<path d="M1057.7 859.8 L1050.2 871.2 L1036.5 870.5 L1030.4 858.3 L1037.8 846.8 L1051.5 847.5Z"/>
<circle cx="1044" cy="859" r="12"/>
<circle class="tk" cx="1044" cy="859" r="9.3"/>
<circle cx="1044" cy="859" r="7"/>
<path class="w" d="M1024.4 881.7 L1026.6 882.5 Q1028.7 883.3 1027.9 885.4 L1025.4 891.7 Q1024.6 893.8 1022.6 893 L1020.4 892.1 Q1018.3 891.3 1019.1 889.3 L1021.5 882.9 Q1022.3 880.9 1024.4 881.7 Z"/>
<path class="th" d="M1026.3 882.4 L1022.2 892.8"/>
<path d="M1024.7 955.8 L1030.9 972.9 M1030.9 972.9 C1032.3 973.2 1036.5 974.2 1039.4 974.6 C1042.3 975 1045.3 975.3 1048.3 975.2 C1051.3 975.2 1054.2 974.7 1057.5 974.1 C1060.7 973.5 1064.1 972.7 1068 971.5 C1071.8 970.2 1076.3 968.3 1080.5 966.6 C1084.6 965 1089.8 962.9 1093 961.8 C1096.2 960.7 1098.6 960.2 1099.8 959.9 M1099.8 959.9 L1101.3 954.5 M1101.3 954.5 C1099.8 954.5 1095.7 954.7 1092.6 954.7 C1089.6 954.8 1086.3 954.7 1083.1 954.8 C1079.9 954.9 1076.1 955.4 1073.2 955.3 C1070.3 955.2 1067.7 954.9 1065.9 954.4 C1064 954 1063.1 953.5 1062 952.8 C1060.8 952.1 1059.8 951.2 1059 950.1 C1058.2 949 1057.5 946.8 1057.2 946.2 M1057.2 946.2 L1051.2 925.2"/>
<path class="th" d="M1029.1 951.7 C1030 953 1032.9 957.9 1034.1 959.6 C1035.3 961.4 1035.9 962.1 1036.4 962.4 C1036.9 962.6 1037.2 961.8 1037 960.9 C1036.8 960 1036.1 958.9 1035.1 957.1 C1034 955.4 1031.4 951.5 1030.6 950.4"/>
<path class="th" d="M1035.3 969.5 C1036.7 970.1 1040.7 972.2 1043.6 973 C1046.5 973.7 1051.3 973.8 1052.9 974"/>
<path class="th" d="M1059.9 958.8 C1062.1 958.7 1068 958.7 1073 958.5 C1078 958.3 1085.5 958.3 1090 957.7 C1094.4 957.1 1098.1 955.5 1099.7 955.1"/>
<path class="th" d="M1067.1 962 C1070.1 961.6 1080 960.9 1085.1 960 C1090.2 959.2 1095.6 957.2 1097.7 956.6"/>
<path class="th" d="M1069.6 968.2 C1072.1 967.5 1079.8 965.3 1084.6 963.6 C1089.3 962 1095.9 959.2 1098.1 958.4"/>
<path class="th" d="M1061.7 959 C1064.3 958.6 1071.4 957.3 1077.5 956.5 C1083.7 955.7 1095.1 954.5 1098.6 954.1"/>
<path d="M1025.1 889.3 C1026.1 890 1029.7 892 1030.6 893.3 C1031.6 894.6 1030.9 895.9 1031 897 C1031.1 898.2 1030.6 899.3 1031.2 900.2 C1031.7 901.1 1033.2 902.5 1034.4 902.6 C1035.6 902.6 1037.4 900.8 1038.4 900.5 C1039.3 900.2 1039.3 900.4 1040 900.8 C1040.7 901.2 1042.3 902 1042.8 902.9 C1043.4 903.7 1043.1 904.7 1043.2 905.8 C1043.2 906.9 1042.6 908.5 1043 909.4 C1043.5 910.4 1044.8 911.4 1045.8 911.5 C1046.9 911.6 1048.6 910.1 1049.5 909.8 C1050.4 909.6 1050.3 909.7 1051.1 910.2 C1052 910.7 1054 912 1054.8 912.8 C1055.6 913.7 1056 914.4 1056.1 915.2 C1056.2 916.1 1055.3 917.3 1055.2 917.7 M1055.2 917.7 L1024.4 957.7 M1024.4 957.7 C1024 958 1022.8 959.4 1022 959.7 C1021.1 959.9 1020.4 959.7 1019.2 959.2 C1018.1 958.6 1015.9 957.3 1015.2 956.2 C1014.5 955.2 1015.2 953.8 1015.2 952.9 C1015.2 951.9 1015.6 951.2 1015.1 950.4 C1014.6 949.5 1013.3 947.8 1012.2 947.6 C1011.1 947.4 1009.4 949 1008.5 949.3 C1007.6 949.5 1007.7 949.7 1006.7 949.2 C1005.7 948.7 1003.3 947.2 1002.7 946.3 C1002 945.3 1002.8 944.3 1002.9 943.4 C1003 942.4 1003.6 941.4 1003.2 940.5 C1002.7 939.5 1001.3 937.9 1000.2 937.7 C999.1 937.5 997.5 939.1 996.6 939.4 C995.6 939.6 996 940 994.8 939.3 C993.5 938.6 990 935.8 989.1 935.2"/>
<path d="M1030.3 930.8 L1017.4 935.6 L1006.8 927 L1009 913.5 L1021.8 908.6 L1032.4 917.2Z"/>
<circle cx="1019.6" cy="922.1" r="12"/>
<circle class="tk" cx="1019.6" cy="922.1" r="9.3"/>
<circle cx="1019.6" cy="922.1" r="7"/>
<path class="w" d="M990.4 928.9 L991.7 930.9 Q992.9 932.8 991.1 934 L985.3 937.7 Q983.5 938.9 982.3 937 L981 935 Q979.8 933.2 981.7 932 L987.4 928.3 Q989.2 927.1 990.4 928.9 Z"/>
<path class="th" d="M991.5 930.6 L982.1 936.7"/>
<path d="M976.1 924 C977.1 925 980.8 927.8 982.6 929.8 C984.3 931.7 985.5 933.5 986.5 935.5 C987.5 937.6 988.6 940.4 988.6 942 C988.7 943.6 987.4 944.2 986.7 945.2 C986.1 946.2 985.1 946.8 985 947.9 C984.9 949 985.3 951 986.2 951.7 C987.2 952.5 989.7 952.1 990.6 952.4 C991.6 952.7 991.4 952.8 991.8 953.6 C992.1 954.3 992.9 955.9 992.9 956.9 C992.8 957.9 992 958.6 991.4 959.5 C990.8 960.4 989.3 961.3 989.1 962.3 C989 963.4 989.4 965 990.2 965.7 C991.1 966.3 993.3 966.1 994.2 966.5 C995 966.8 994.9 966.8 995.3 967.7 C995.7 968.6 996.5 970.8 996.7 972 C996.9 973.1 996.7 974 996.3 974.7 C995.9 975.4 994.5 975.9 994.2 976.2 M994.2 976.2 L945.7 990.4 M945.7 990.4 C945.2 990.5 943.4 990.9 942.6 990.6 C941.8 990.3 941.3 989.7 940.7 988.6 C940.1 987.5 939.1 985.1 939.1 983.8 C939.2 982.6 940.5 981.9 941.1 981.1 C941.7 980.3 942.4 980 942.5 979 C942.6 978 942.6 975.9 941.8 975.1 C941 974.3 938.7 974.6 937.8 974.3 C936.9 973.9 936.9 974.1 936.4 973.2 C935.9 972.2 934.8 969.6 934.9 968.4 C934.9 967.2 936.1 966.9 936.8 966.2 C937.4 965.5 938.5 965 938.7 964 C938.9 963 938.7 960.8 937.9 960 C937.2 959.2 934.9 959.5 934 959.2 C933.1 958.9 933.2 959.4 932.6 958.1 C932 956.8 930.6 953.8 930.4 951.4 C930.2 949 930.9 946.4 931.6 943.7 C932.3 941 934.1 936.6 934.6 935.2"/>
<path class="w" d="M935.1 947.2 L935 949.6 Q934.9 951.8 932.7 951.6 L925.9 951.3 Q923.7 951.1 923.8 948.9 L924 946.6 Q924.1 944.4 926.3 944.5 L933.1 944.8 Q935.3 945 935.1 947.2 Z"/>
<path class="th" d="M935 949.2 L923.8 948.5"/>
<path d="M864.7 970.4 L850.4 981.5 M850.4 981.5 C850.6 982.9 850.9 987.3 851.4 990.2 C851.9 993.1 852.5 996 853.5 998.8 C854.6 1001.7 855.9 1004.3 857.5 1007.2 C859.1 1010.1 860.8 1013.1 863.2 1016.3 C865.6 1019.6 868.8 1023.3 871.7 1026.8 C874.5 1030.2 878.1 1034.4 880.1 1037.2 C882.2 1039.9 883.4 1042 884.1 1043 M884.1 1043 L889.7 1042.8 M889.7 1042.8 C889.2 1041.4 887.7 1037.5 886.8 1034.7 C885.8 1031.8 884.8 1028.7 883.7 1025.6 C882.6 1022.5 881 1019.1 880.2 1016.3 C879.4 1013.6 878.9 1011 878.8 1009.1 C878.6 1007.2 878.8 1006.2 879.1 1004.9 C879.5 1003.6 880 1002.3 880.8 1001.2 C881.6 1000.1 883.4 998.8 884 998.3 M884 998.3 L902 986.2"/>
<path class="th" d="M870 973.3 C869 974.5 865.3 978.8 864 980.5 C862.7 982.2 862.2 983 862.1 983.5 C862.1 984 862.9 984.1 863.7 983.7 C864.4 983.2 865.4 982.2 866.7 980.6 C868 979.1 870.9 975.4 871.7 974.3"/>
<path class="th" d="M855 984.7 C854.9 986.2 854 990.6 854.2 993.7 C854.4 996.7 855.8 1001.2 856.2 1002.8"/>
<path class="th" d="M872.8 1004.8 C873.5 1006.8 875.4 1012.4 877.1 1017.1 C878.8 1021.8 881.2 1028.9 883.1 1033 C885 1037.1 887.7 1040.1 888.6 1041.5"/>
<path class="th" d="M872 1012.6 C873.2 1015.4 876.9 1024.6 879.4 1029.1 C881.8 1033.7 885.3 1038.2 886.5 1040"/>
<path class="th" d="M866.8 1016.9 C868.3 1019 872.8 1025.7 875.8 1029.7 C878.8 1033.7 883.5 1039.1 885 1041"/>
<path class="th" d="M873.1 1006.6 C874.3 1008.9 877.7 1015.2 880.4 1020.8 C883.1 1026.4 887.7 1036.9 889.2 1040.1"/>
<path d="M928.1 950.2 C927.8 951.3 927 955.4 926 956.7 C925.1 958 923.7 957.8 922.6 958.2 C921.5 958.6 920.3 958.5 919.6 959.3 C918.9 960.2 918 962 918.4 963.1 C918.7 964.3 921 965.5 921.6 966.3 C922.1 967.1 921.9 967.1 921.8 967.9 C921.6 968.8 921.3 970.5 920.7 971.3 C920 972 919 972.1 918 972.5 C916.9 972.8 915.2 972.7 914.5 973.4 C913.7 974.2 913.1 975.7 913.4 976.8 C913.7 977.8 915.6 979 916.1 979.8 C916.6 980.5 916.5 980.4 916.3 981.4 C916.1 982.4 915.5 984.6 914.9 985.7 C914.4 986.7 913.8 987.4 913 987.7 C912.3 988 910.9 987.6 910.4 987.6 M910.4 987.6 L862.8 970.6 M862.8 970.6 C862.4 970.4 860.7 969.7 860.2 969 C859.7 968.2 859.7 967.5 859.9 966.2 C860 965 860.6 962.4 861.4 961.5 C862.2 960.5 863.7 960.7 864.6 960.4 C865.5 960.1 866.3 960.3 866.9 959.6 C867.6 958.8 868.8 957 868.7 955.9 C868.5 954.8 866.5 953.7 865.9 952.9 C865.4 952.2 865.3 952.3 865.5 951.2 C865.6 950.1 866.3 947.4 867 946.5 C867.7 945.6 868.9 946 869.8 945.8 C870.8 945.6 871.9 945.9 872.7 945.1 C873.4 944.4 874.6 942.6 874.4 941.5 C874.2 940.4 872.2 939.3 871.7 938.5 C871.2 937.7 870.9 938.2 871.2 936.8 C871.5 935.4 873 931.2 873.4 930.1"/>
<path d="M890.3 967.9 L881.7 957.2 L886.6 944.5 L900.1 942.4 L908.7 953 L903.8 965.8Z"/>
<circle cx="895.2" cy="955.1" r="12"/>
<circle class="tk" cx="895.2" cy="955.1" r="9.3"/>
<circle cx="895.2" cy="955.1" r="7"/>
<path class="w" d="M879.7 929.4 L878.2 931.3 Q876.8 933 875.1 931.6 L869.8 927.3 Q868.1 925.9 869.5 924.2 L871 922.4 Q872.4 920.7 874.1 922.1 L879.4 926.3 Q881.1 927.7 879.7 929.4 Z"/>
<path class="th" d="M878.4 931 L869.8 923.9"/>
<path d="M833.9 945.4 L826 961.6 M826 961.6 C824.5 961.8 820.2 962.3 817.3 962.4 C814.4 962.5 811.4 962.5 808.4 962.1 C805.4 961.7 802.6 960.9 799.4 959.9 C796.2 959 793 957.8 789.3 956.2 C785.6 954.5 781.3 952.1 777.4 950 C773.4 947.9 768.5 945.3 765.5 943.8 C762.4 942.3 760 941.6 758.9 941.1 M758.9 941.1 L758 935.6 M758 935.6 C759.4 935.8 763.6 936.4 766.6 936.8 C769.6 937.2 772.8 937.5 776.1 938 C779.3 938.4 783 939.3 785.8 939.5 C788.7 939.8 791.3 939.7 793.2 939.5 C795.1 939.3 796.1 938.9 797.3 938.3 C798.5 937.7 799.6 936.9 800.5 935.9 C801.4 934.9 802.4 932.8 802.7 932.2 M802.7 932.2 L810.9 912"/>
<path class="th" d="M830 940.8 C829 942 825.6 946.5 824.2 948.1 C822.8 949.7 822.2 950.4 821.7 950.6 C821.2 950.7 820.9 949.9 821.2 949.1 C821.5 948.2 822.3 947.1 823.5 945.5 C824.8 943.9 827.8 940.3 828.7 939.3"/>
<path class="th" d="M822 957.8 C820.5 958.2 816.3 959.9 813.3 960.3 C810.3 960.8 805.6 960.3 804 960.3"/>
<path class="th" d="M798.7 944.4 C796.5 944.1 790.6 943.5 785.7 942.7 C780.7 942 773.3 941.1 768.9 940.1 C764.6 939 761 937 759.5 936.4"/>
<path class="th" d="M791.1 946.8 C788.2 946.2 778.4 944.4 773.5 942.9 C768.5 941.5 763.4 939 761.3 938.2"/>
<path class="th" d="M788 952.8 C785.6 951.7 778.2 948.7 773.6 946.5 C769.1 944.4 762.9 941 760.7 939.8"/>
<path class="th" d="M796.9 944.5 C794.3 943.8 787.4 941.8 781.4 940.3 C775.4 938.8 764.1 936.3 760.7 935.5"/>
<path d="M880 914.3 C879.4 915.6 877.8 920 876.5 922.2 C875.2 924.5 873.9 926.2 872.2 927.8 C870.6 929.4 868.3 931.3 866.7 931.8 C865.2 932.3 864.2 931.3 863.1 931 C861.9 930.7 861 929.9 860 930.2 C858.9 930.4 857.2 931.4 856.7 932.5 C856.3 933.6 857.5 935.9 857.5 936.9 C857.5 937.9 857.3 937.8 856.7 938.4 C856.1 938.9 854.8 940.2 853.8 940.4 C852.9 940.7 852 940.1 850.9 939.8 C849.9 939.5 848.6 938.4 847.6 938.6 C846.5 938.7 845.1 939.6 844.7 940.6 C844.3 941.6 845.2 943.7 845.2 944.6 C845.1 945.5 845.1 945.4 844.4 946.1 C843.6 946.8 841.8 948.2 840.7 948.7 C839.7 949.2 838.8 949.4 838 949.2 C837.2 949 836.3 947.9 836 947.6 M836 947.6 L807.4 905.9 M807.4 905.9 C807.2 905.5 806.3 903.9 806.3 903 C806.3 902.1 806.7 901.5 807.6 900.6 C808.5 899.7 810.4 898 811.6 897.7 C812.9 897.3 813.9 898.4 814.9 898.7 C815.8 899 816.3 899.6 817.2 899.4 C818.2 899.2 820.3 898.4 820.8 897.5 C821.3 896.5 820.3 894.4 820.3 893.4 C820.4 892.5 820.2 892.5 821 891.8 C821.7 891 823.9 889.1 825 888.8 C826.1 888.5 826.8 889.6 827.7 890 C828.6 890.3 829.3 891.2 830.4 891.1 C831.4 891 833.4 890.1 833.9 889.2 C834.4 888.2 833.4 886.1 833.5 885.1 C833.5 884.2 833 884.4 834.1 883.5 C835.1 882.5 837.5 880.2 839.7 879.3 C842 878.4 844.7 878.2 847.5 878.1 C850.3 877.9 855 878.2 856.5 878.3"/>
<path d="M831.2 919.8 L830.5 906.2 L842 898.7 L854.2 905 L854.9 918.7 L843.4 926.1Z"/>
<circle cx="842.7" cy="912.4" r="12"/>
<circle class="tk" cx="842.7" cy="912.4" r="9.3"/>
<circle cx="842.7" cy="912.4" r="7"/>
<path class="w" d="M845.3 882.5 L843 883.1 Q840.8 883.7 840.3 881.6 L838.5 875 Q838 872.9 840.1 872.3 L842.4 871.7 Q844.5 871.1 845.1 873.3 L846.8 879.8 Q847.4 882 845.3 882.5 Z"/>
<path class="th" d="M843.3 883 L840.5 872.2"/>
<path d="M801.4 822.7 L786.4 812.5 M786.4 812.5 C785.1 813.1 781.1 814.8 778.5 816.2 C775.9 817.6 773.3 819 770.9 820.9 C768.6 822.7 766.5 824.8 764.2 827.2 C761.9 829.6 759.6 832.2 757.3 835.5 C754.9 838.7 752.4 843 750 846.7 C747.5 850.5 744.6 855.2 742.7 858 C740.8 860.8 739.1 862.6 738.4 863.6 M738.4 863.6 L740.3 868.8 M740.3 868.8 C741.4 867.9 744.7 865.4 747.1 863.5 C749.5 861.7 752.2 859.8 754.8 857.8 C757.4 855.9 760.2 853.3 762.5 851.6 C764.9 850 767.2 848.8 768.9 848 C770.7 847.3 771.7 847.2 773.1 847.1 C774.4 847 775.8 847.1 777.1 847.5 C778.3 847.9 780.2 849.3 780.8 849.6 M780.8 849.6 L798 863.1"/>
<path class="th" d="M800.3 828.6 C798.8 828.1 793.6 825.9 791.6 825.2 C789.6 824.4 788.7 824.2 788.2 824.3 C787.6 824.4 787.8 825.3 788.5 825.8 C789.2 826.4 790.4 827 792.3 827.8 C794.2 828.6 798.6 830.1 799.8 830.6"/>
<path class="th" d="M784.8 817.9 C783.4 818.2 778.9 818.8 776.1 819.9 C773.3 821.1 769.4 823.8 768 824.6"/>
<path class="th" d="M771.2 841 C769.5 842.4 764.7 845.9 760.8 848.9 C756.9 852 750.8 856.5 747.6 859.6 C744.3 862.6 742.2 866.1 741.2 867.4"/>
<path class="th" d="M763.5 842.7 C761.3 844.7 753.7 851.1 750.1 854.8 C746.5 858.5 743.3 863.3 741.9 865"/>
<path class="th" d="M757.9 839.1 C756.3 841.2 751.3 847.5 748.4 851.6 C745.5 855.7 741.9 861.8 740.5 863.8"/>
<path class="th" d="M769.6 841.9 C767.7 843.8 762.8 848.9 758.3 853.2 C753.8 857.5 745.3 865.2 742.7 867.6"/>
<path d="M840.2 876.8 C839.1 876.8 835 877.3 833.4 876.8 C831.9 876.3 831.7 874.9 830.9 874 C830.2 873.1 829.9 871.9 828.9 871.5 C827.9 871.1 825.9 870.8 824.9 871.5 C823.9 872.2 823.5 874.7 822.9 875.5 C822.3 876.3 822.2 876.1 821.4 876.2 C820.6 876.3 818.8 876.6 817.9 876.2 C817 875.8 816.6 874.9 815.9 874 C815.2 873.1 814.8 871.5 813.9 871 C813 870.5 811.3 870.4 810.4 871 C809.5 871.6 809 873.8 808.4 874.5 C807.8 875.2 807.9 875.1 806.9 875.2 C805.9 875.3 803.6 875.4 802.4 875.2 C801.2 875 800.4 874.6 799.9 874 C799.4 873.4 799.3 871.9 799.2 871.5 M799.2 871.5 L800.6 821 M800.6 821 C800.7 820.5 800.9 818.7 801.4 818 C802 817.3 802.7 817 803.9 816.8 C805.2 816.6 807.7 816.3 808.9 816.8 C810.1 817.2 810.3 818.7 810.9 819.5 C811.5 820.3 811.5 821.1 812.4 821.5 C813.3 821.9 815.4 822.5 816.4 822 C817.4 821.5 817.8 819.2 818.4 818.5 C819 817.8 818.8 817.7 819.9 817.5 C821 817.3 823.8 817.1 824.9 817.5 C826 817.9 825.9 819.2 826.4 820 C826.9 820.8 827 822 827.9 822.5 C828.8 823 830.9 823.5 831.9 823 C832.9 822.5 833.3 820.2 833.9 819.5 C834.5 818.8 834 818.7 835.4 818.5 C836.8 818.3 841.2 818.5 842.4 818.5"/>
<path d="M811.7 846.2 L819.2 834.8 L832.9 835.5 L839 847.7 L831.6 859.2 L817.9 858.5Z"/>
<circle cx="825.4" cy="847" r="12"/>
<circle class="tk" cx="825.4" cy="847" r="9.3"/>
<circle cx="825.4" cy="847" r="7"/>
<path class="w" d="M845 824.3 L842.8 823.5 Q840.7 822.7 841.5 820.6 L844 814.3 Q844.8 812.2 846.8 813 L849 813.9 Q851.1 814.7 850.3 816.7 L847.9 823.1 Q847.1 825.1 845 824.3 Z"/>
<path class="th" d="M843.1 823.6 L847.2 813.2"/>
<path d="M815.7 785.7 L797.8 783.2 M797.8 783.2 C797.2 781.8 795.3 777.9 794.4 775.1 C793.4 772.4 792.5 769.5 791.9 766.6 C791.4 763.6 791.2 760.7 791.2 757.4 C791.1 754.1 791.2 750.6 791.6 746.6 C792.1 742.6 793.1 737.8 793.8 733.3 C794.6 728.9 795.6 723.5 796 720.1 C796.5 716.7 796.5 714.3 796.6 713.1 M796.6 713.1 L801.5 710.5 M801.5 710.5 C801.8 711.9 802.5 716 803 719 C803.6 722 804.3 725.2 804.9 728.4 C805.4 731.6 805.8 735.4 806.4 738.2 C807 741 807.9 743.4 808.7 745.2 C809.5 746.9 810.2 747.7 811.1 748.6 C812.1 749.6 813.1 750.4 814.4 751 C815.6 751.5 817.9 751.8 818.6 752 M818.6 752 L840.3 753.5"/>
<path class="th" d="M818.8 780.6 C817.4 780 812.1 778.1 810.1 777.3 C808.1 776.5 807.3 776.1 807 775.7 C806.7 775.2 807.4 774.7 808.3 774.7 C809.2 774.8 810.4 775.2 812.4 775.9 C814.3 776.6 818.6 778.3 819.9 778.8"/>
<path class="th" d="M800.2 778.2 C799.4 776.9 796.4 773.4 795.1 770.7 C793.8 768 792.7 763.3 792.3 761.9"/>
<path class="th" d="M805.7 751.9 C805.3 749.7 804.2 743.9 803.3 739 C802.5 734.1 801 726.7 800.7 722.2 C800.3 717.8 801.1 713.8 801.2 712.1"/>
<path class="th" d="M801.1 745.4 C800.8 742.4 799.5 732.6 799.3 727.5 C799.2 722.3 800 716.6 800.1 714.4"/>
<path class="th" d="M794.5 744.3 C794.7 741.7 795.3 733.7 796 728.7 C796.6 723.7 797.9 716.8 798.3 714.4"/>
<path class="th" d="M805.1 750.2 C805 747.5 804.8 740.4 804.3 734.2 C803.9 728 802.7 716.5 802.4 713"/>
<path d="M859.5 819.9 C858.1 819.7 853.4 819.6 850.9 819 C848.3 818.5 846.3 817.8 844.3 816.7 C842.2 815.7 839.7 814 838.8 812.7 C837.8 811.4 838.5 810.1 838.4 809 C838.3 807.8 838.8 806.7 838.2 805.8 C837.7 804.9 836.2 803.5 835 803.4 C833.8 803.4 832 805.2 831 805.5 C830.1 805.8 830.1 805.6 829.4 805.2 C828.7 804.8 827.1 804 826.6 803.1 C826 802.3 826.3 801.3 826.2 800.2 C826.2 799.1 826.8 797.5 826.4 796.6 C825.9 795.6 824.6 794.6 823.6 794.5 C822.5 794.4 820.8 795.9 819.9 796.2 C819 796.4 819.1 796.3 818.3 795.8 C817.4 795.3 815.4 794 814.6 793.2 C813.8 792.3 813.4 791.6 813.3 790.8 C813.2 789.9 814.1 788.7 814.2 788.3 M814.2 788.3 L845 748.3 M845 748.3 C845.4 748 846.6 746.6 847.4 746.3 C848.3 746.1 849 746.3 850.2 746.8 C851.3 747.4 853.5 748.7 854.2 749.8 C854.9 750.8 854.2 752.2 854.2 753.1 C854.2 754.1 853.8 754.8 854.3 755.6 C854.8 756.5 856.1 758.2 857.2 758.4 C858.3 758.6 860 757 860.9 756.7 C861.8 756.5 861.7 756.3 862.7 756.8 C863.7 757.3 866.1 758.8 866.7 759.7 C867.4 760.7 866.6 761.7 866.5 762.6 C866.4 763.6 865.8 764.6 866.2 765.5 C866.7 766.5 868.1 768.1 869.2 768.3 C870.3 768.5 871.9 766.9 872.8 766.6 C873.8 766.4 873.4 766 874.6 766.7 C875.9 767.4 878.8 769 880.3 770.8 C881.9 772.7 882.9 775.2 883.9 777.8 C884.9 780.4 886.1 785 886.5 786.5"/>
<path d="M839.1 775.2 L852 770.4 L862.6 779 L860.4 792.5 L847.6 797.4 L837 788.8Z"/>
<circle cx="849.8" cy="783.9" r="12"/>
<circle class="tk" cx="849.8" cy="783.9" r="9.3"/>
<circle cx="849.8" cy="783.9" r="7"/>
<path class="w" d="M879 777.1 L877.7 775.1 Q876.5 773.2 878.3 772 L884.1 768.3 Q885.9 767.1 887.1 769 L888.4 771 Q889.6 772.8 887.7 774 L882 777.7 Q880.2 778.9 879 777.1 Z"/>
<path class="th" d="M877.9 775.4 L887.3 769.3"/>
<path d="M922.3 716.9 L927.4 699.5 M927.4 699.5 C926.4 698.4 923.6 695.1 921.4 693.1 C919.3 691 917.1 689 914.6 687.3 C912.2 685.6 909.6 684.3 906.6 682.9 C903.6 681.5 900.4 680.1 896.5 678.8 C892.7 677.6 887.9 676.5 883.6 675.4 C879.2 674.2 873.9 672.9 870.6 671.9 C867.3 671 865.1 669.9 864 669.5 M864 669.5 L859.6 673 M859.6 673 C860.8 673.8 864.2 676.1 866.7 677.9 C869.2 679.6 871.8 681.6 874.5 683.4 C877.2 685.2 880.5 687.1 882.8 688.8 C885.1 690.6 886.9 692.4 888.2 693.8 C889.5 695.3 889.9 696.2 890.4 697.5 C890.9 698.7 891.2 700 891.2 701.4 C891.2 702.7 890.5 704.9 890.4 705.6 M890.4 705.6 L882.8 726.1"/>
<path class="th" d="M916.3 717.6 C916.4 716.1 916.9 710.4 916.9 708.3 C917 706.1 917 705.2 916.7 704.8 C916.5 704.3 915.7 704.7 915.4 705.6 C915 706.4 914.9 707.7 914.7 709.8 C914.5 711.8 914.4 716.5 914.3 717.8"/>
<path class="th" d="M921.8 699.6 C921 698.3 919.1 694.2 917.1 691.9 C915.2 689.6 911.4 686.7 910.2 685.7"/>
<path class="th" d="M895.6 693.8 C893.8 692.6 889 689.2 884.8 686.4 C880.7 683.6 874.6 679.2 870.6 677 C866.7 674.9 862.8 674 861.2 673.4"/>
<path class="th" d="M891.6 687 C889 685.5 880.6 680.3 875.9 678 C871.3 675.7 865.8 674.1 863.7 673.4"/>
<path class="th" d="M893.3 680.5 C890.8 679.7 883.3 676.9 878.5 675.4 C873.7 673.9 866.8 672.3 864.4 671.7"/>
<path class="th" d="M894.3 692.6 C891.9 691.4 885.5 688.3 880 685.3 C874.5 682.4 864.6 676.6 861.5 674.9"/>
<path d="M914.8 717.7 C915.5 715.5 918.7 707.6 918.7 704.4 C918.7 701.2 916.6 700.3 914.9 698.5 C913.3 696.7 911 695.1 908.8 693.6 C906.6 692.2 904.5 691.1 901.9 690 C899.3 688.8 896.4 687.9 893.1 686.7 C889.8 685.5 885.9 684.3 882.1 682.8 C878.2 681.4 871.9 679 869.9 678.2"/>
<path d="M921.4 693.1 L914.7 698.5"/>
<path d="M914.4 687.2 L908.6 693.5"/>
<path d="M906.3 682.7 L901.7 689.8"/>
<path d="M896.3 678.7 L892.8 686.5"/>
<path d="M882.9 770.5 C882.5 769.4 880.8 765.6 880.8 764 C880.7 762.4 882 761.8 882.7 760.8 C883.3 759.8 884.3 759.2 884.4 758.1 C884.5 757 884.1 755 883.2 754.3 C882.2 753.5 879.7 753.9 878.8 753.6 C877.8 753.3 878 753.2 877.6 752.4 C877.3 751.7 876.5 750.1 876.5 749.1 C876.6 748.1 877.4 747.4 878 746.5 C878.6 745.6 880.1 744.7 880.3 743.7 C880.4 742.6 880 741 879.2 740.3 C878.3 739.7 876.1 739.9 875.2 739.5 C874.4 739.2 874.5 739.2 874.1 738.3 C873.7 737.4 872.9 735.2 872.7 734 C872.5 732.9 872.7 732 873.1 731.3 C873.5 730.6 874.9 730.1 875.2 729.8 M875.2 729.8 L923.7 715.6 M923.7 715.6 C924.2 715.5 926 715.1 926.8 715.4 C927.6 715.7 928.1 716.3 928.7 717.4 C929.3 718.5 930.3 720.9 930.3 722.2 C930.2 723.4 928.9 724.1 928.3 724.9 C927.7 725.7 927 726 926.9 727 C926.8 728 926.8 730.1 927.6 730.9 C928.4 731.7 930.7 731.4 931.6 731.7 C932.5 732.1 932.5 731.9 933 732.8 C933.5 733.8 934.6 736.4 934.5 737.6 C934.5 738.8 933.3 739.1 932.6 739.8 C932 740.5 930.9 741 930.7 742 C930.5 743 930.7 745.2 931.5 746 C932.2 746.8 934.5 746.5 935.4 746.8 C936.3 747.1 936.2 746.6 936.8 747.9 C937.4 749.2 938.6 753.4 939 754.6"/>
<path d="M903.1 733.9 L916.3 737.5 L919.8 750.7 L910.1 760.4 L896.9 756.8 L893.4 743.6Z"/>
<circle cx="906.6" cy="747.2" r="12"/>
<circle class="tk" cx="906.6" cy="747.2" r="9.3"/>
<circle cx="906.6" cy="747.2" r="7"/>
<path class="w" d="M934.3 758.8 L934.4 756.4 Q934.5 754.2 936.7 754.4 L943.5 754.7 Q945.7 754.9 945.6 757.1 L945.4 759.4 Q945.3 761.6 943.1 761.5 L936.3 761.2 Q934.1 761 934.3 758.8 Z"/>
<path class="th" d="M934.4 756.8 L945.6 757.5"/>
<path d="M961.9 719.1 L958.8 701.2 M958.8 701.2 C959.9 700.3 963 697.3 965.4 695.5 C967.7 693.7 970.1 691.9 972.8 690.5 C975.4 689.1 978.1 688 981.3 687 C984.4 685.9 987.8 684.9 991.7 684 C995.6 683.2 1000.5 682.7 1005 682 C1009.4 681.4 1014.9 680.7 1018.2 680 C1021.6 679.4 1023.9 678.7 1025.1 678.4 M1025.1 678.4 L1029.1 682.3 M1029.1 682.3 C1027.8 683 1024.1 684.9 1021.4 686.3 C1018.8 687.8 1016 689.5 1013.1 691 C1010.2 692.5 1006.7 694 1004.3 695.5 C1001.8 697 999.8 698.6 998.3 699.9 C996.9 701.2 996.4 702 995.8 703.2 C995.1 704.4 994.7 705.7 994.5 707 C994.4 708.4 994.8 710.7 994.9 711.4 M994.9 711.4 L1000.1 732.5"/>
<path class="th" d="M967.8 720.4 C967.9 718.9 968 713.2 968.2 711.1 C968.4 709 968.5 708 968.8 707.6 C969.1 707.2 969.8 707.7 970.1 708.6 C970.3 709.4 970.3 710.8 970.3 712.8 C970.2 714.9 969.8 719.5 969.7 720.9"/>
<path class="th" d="M964.3 702 C965.2 700.8 967.6 696.9 969.8 694.8 C972 692.7 976.1 690.3 977.4 689.4"/>
<path class="th" d="M991 699.1 C992.9 698 998.1 695.1 1002.5 692.8 C1007 690.5 1013.5 686.8 1017.6 685.1 C1021.8 683.4 1025.8 682.9 1027.4 682.5"/>
<path class="th" d="M995.7 692.7 C998.5 691.5 1007.4 687.2 1012.3 685.5 C1017.1 683.7 1022.8 682.8 1024.9 682.2"/>
<path class="th" d="M994.7 686.1 C997.3 685.5 1005.1 683.6 1010 682.6 C1015 681.7 1022 680.8 1024.4 680.5"/>
<path class="th" d="M992.4 698 C994.9 697 1001.7 694.6 1007.4 692.3 C1013.2 690 1023.7 685.3 1027 683.9"/>
<path d="M943 771.3 C942.7 769.8 941.4 765.3 941.1 762.8 C940.8 760.2 940.9 758 941.3 755.8 C941.6 753.5 942.4 750.6 943.4 749.3 C944.3 748 945.7 748.2 946.8 747.8 C947.9 747.4 949.1 747.5 949.8 746.7 C950.5 745.8 951.4 744 951 742.9 C950.7 741.7 948.4 740.5 947.8 739.7 C947.3 738.9 947.5 738.9 947.6 738.1 C947.8 737.2 948.1 735.5 948.7 734.7 C949.4 734 950.4 733.9 951.4 733.5 C952.5 733.2 954.2 733.3 954.9 732.6 C955.7 731.8 956.3 730.3 956 729.2 C955.7 728.2 953.8 727 953.3 726.2 C952.8 725.5 952.9 725.6 953.1 724.6 C953.3 723.6 953.9 721.4 954.5 720.3 C955 719.3 955.6 718.6 956.4 718.3 C957.1 718 958.5 718.4 959 718.4 M959 718.4 L1006.6 735.4 M1006.6 735.4 C1007 735.6 1008.7 736.3 1009.2 737 C1009.7 737.8 1009.7 738.5 1009.5 739.8 C1009.4 741 1008.8 743.6 1008 744.5 C1007.2 745.5 1005.7 745.3 1004.8 745.6 C1003.9 745.9 1003.1 745.7 1002.5 746.4 C1001.8 747.2 1000.6 749 1000.7 750.1 C1000.9 751.2 1002.9 752.3 1003.5 753.1 C1004 753.8 1004.1 753.7 1003.9 754.8 C1003.8 755.9 1003.1 758.6 1002.4 759.5 C1001.7 760.4 1000.5 760 999.6 760.2 C998.6 760.4 997.5 760.1 996.7 760.9 C996 761.6 994.8 763.4 995 764.5 C995.2 765.6 997.2 766.7 997.7 767.5 C998.2 768.3 998.5 767.8 998.2 769.2 C997.9 770.6 997.3 773.8 996 775.9 C994.8 777.9 992.7 779.7 990.5 781.5 C988.4 783.2 984.3 785.7 983.1 786.6"/>
<path d="M979.1 738.1 L987.7 748.8 L982.8 761.5 L969.3 763.6 L960.7 753 L965.6 740.2Z"/>
<circle cx="974.2" cy="750.9" r="12"/>
<circle class="tk" cx="974.2" cy="750.9" r="9.3"/>
<circle cx="974.2" cy="750.9" r="7"/>
<path class="w" d="M989.7 776.6 L991.2 774.7 Q992.6 773 994.3 774.4 L999.6 778.7 Q1001.3 780.1 999.9 781.8 L998.4 783.6 Q997 785.3 995.3 783.9 L990 779.7 Q988.3 778.3 989.7 776.6 Z"/>
<path class="th" d="M991 775 L999.6 782.1"/>
<path d="M1060.3 799.1 L1078.4 798.6 M1078.4 798.6 C1079.1 797.3 1081.4 793.6 1082.7 791 C1084 788.3 1085.2 785.6 1086.1 782.7 C1086.9 779.8 1087.4 777 1087.8 773.7 C1088.2 770.4 1088.6 766.9 1088.6 762.9 C1088.6 758.8 1088.1 753.9 1087.8 749.5 C1087.6 745 1087.2 739.5 1087.1 736.1 C1087 732.7 1087.3 730.2 1087.3 729 M1087.3 729 L1082.7 725.9 M1082.7 725.9 C1082.3 727.3 1081.1 731.3 1080.3 734.2 C1079.4 737.1 1078.3 740.2 1077.4 743.3 C1076.5 746.4 1075.7 750.2 1074.8 752.9 C1073.9 755.6 1072.7 757.9 1071.7 759.6 C1070.7 761.2 1070 761.9 1068.9 762.8 C1067.9 763.7 1066.8 764.4 1065.5 764.8 C1064.2 765.2 1061.9 765.2 1061.1 765.3 M1061.1 765.3 L1039.4 764.5"/>
<path class="th" d="M1057.8 793.7 C1059.3 793.3 1064.8 792 1066.8 791.4 C1068.9 790.8 1069.8 790.5 1070.1 790.1 C1070.5 789.7 1069.8 789.1 1069 789 C1068.1 789 1066.7 789.3 1064.7 789.7 C1062.7 790.2 1058.3 791.5 1057 791.9"/>
<path class="th" d="M1076.6 793.3 C1077.6 792.2 1080.9 789.1 1082.5 786.5 C1084.1 784 1085.6 779.4 1086.3 778"/>
<path class="th" d="M1074 766.6 C1074.6 764.5 1076.4 758.9 1077.8 754.1 C1079.2 749.3 1081.4 742.1 1082.2 737.7 C1083.1 733.3 1082.7 729.3 1082.8 727.6"/>
<path class="th" d="M1079.3 760.7 C1079.9 757.8 1082.3 748.1 1083 743 C1083.7 737.9 1083.5 732.2 1083.6 730"/>
<path class="th" d="M1086 760.3 C1086 757.7 1086.3 749.7 1086.2 744.6 C1086.1 739.6 1085.5 732.6 1085.4 730.1"/>
<path class="th" d="M1074.8 765 C1075.2 762.3 1076.2 755.3 1077.3 749.2 C1078.4 743.1 1080.8 731.8 1081.5 728.3"/>
<path d="M997.2 778.2 C998.1 777.5 1001.1 774.7 1002.7 774.2 C1004.2 773.7 1005.2 774.7 1006.3 775 C1007.5 775.3 1008.4 776.1 1009.4 775.8 C1010.5 775.6 1012.2 774.6 1012.7 773.5 C1013.1 772.4 1011.9 770.1 1011.9 769.1 C1011.9 768.1 1012.1 768.2 1012.7 767.6 C1013.3 767.1 1014.6 765.8 1015.6 765.6 C1016.5 765.3 1017.4 765.9 1018.5 766.2 C1019.5 766.5 1020.8 767.6 1021.8 767.4 C1022.9 767.3 1024.3 766.4 1024.7 765.4 C1025.1 764.4 1024.2 762.3 1024.2 761.4 C1024.3 760.5 1024.3 760.6 1025 759.9 C1025.8 759.2 1027.6 757.8 1028.7 757.3 C1029.7 756.8 1030.6 756.6 1031.4 756.8 C1032.2 757 1033.1 758.1 1033.4 758.4 M1033.4 758.4 L1062 800.1 M1062 800.1 C1062.2 800.5 1063.1 802.1 1063.1 803 C1063.1 803.9 1062.7 804.5 1061.8 805.4 C1060.9 806.3 1059 808 1057.8 808.3 C1056.5 808.7 1055.5 807.6 1054.5 807.3 C1053.6 807 1053.1 806.4 1052.2 806.6 C1051.2 806.8 1049.1 807.6 1048.6 808.5 C1048.1 809.5 1049.1 811.6 1049.1 812.6 C1049 813.5 1049.2 813.5 1048.4 814.2 C1047.7 815 1045.5 816.9 1044.4 817.2 C1043.3 817.5 1042.6 816.4 1041.7 816 C1040.8 815.7 1040.1 814.8 1039 814.9 C1038 815 1036 815.9 1035.5 816.8 C1035 817.8 1036 819.9 1035.9 820.9 C1035.9 821.8 1036.4 821.6 1035.3 822.5 C1034.3 823.5 1030.6 826 1029.7 826.7"/>
<path d="M1038.2 786.2 L1038.9 799.8 L1027.4 807.3 L1015.2 801 L1014.5 787.3 L1026 779.9Z"/>
<circle cx="1026.7" cy="793.6" r="12"/>
<circle class="tk" cx="1026.7" cy="793.6" r="9.3"/>
<circle cx="1026.7" cy="793.6" r="7"/>
<circle class="w" cx="934.7" cy="853" r="81.4"/>
<circle cx="934.7" cy="853" r="73.7"/>
<path d="M857.3 827.9 L874.3 798.5 M854.1 864.4 L861 852.4 M897.4 789.5 L904.3 777.5 M860 885.3 L864.9 876.7 M920.3 780.7 L925.3 772.1 M868.9 900.9 L873.1 893.5 M939 779.4 L943.2 772 M879.7 913 L883.7 906.2 M955.2 782.2 L959.2 775.4 M892.2 922.4 L896 915.8 M969.7 788.1 L973.6 781.5 M906.2 929.2 L910.1 922.5 M982.5 796.9 L986.4 790.2 M921.7 933.4 L925.8 926.2 M993.6 808.7 L997.8 801.5 M939 934.3 L943.7 926.1 M1002.6 824.3 L1007.3 816.1 M959 930.7 L965.1 920.1 M1008 845.8 L1014.1 835.2 M984.7 917.3 L1015.3 864.1"/>
<path class="cl" d="M842.3 853 L1027.8 853 M934.7 756.2 L934.7 944.4"/>
<path class="w" d="M944 960 C944.3 958.3 944.7 952.8 946 950 C947.3 947.2 949.3 944.7 952 943 C954.7 941.3 958.7 940.1 962 940 C965.3 939.9 969.2 941 972 942.5 C974.8 944 977.3 946.6 979 949 C980.7 951.4 981.1 954.2 982 957 C982.9 959.8 983.5 963.2 984.5 966 C985.5 968.8 986.4 971.5 988 974 C989.6 976.5 991.2 978.3 994 981 C996.8 983.7 1002.8 988.5 1004.5 990 C1004.2 991.7 1003.6 996.7 1002.5 1000 C1001.4 1003.3 999.9 1006.7 998 1010 C996.1 1013.3 993.7 1016.9 991 1020 C988.3 1023.1 985.2 1025.4 982 1028.5 C978.8 1031.6 974.8 1035.6 972 1038.5 C969.2 1041.4 967 1044.7 965 1046 C963 1047.3 960.8 1046.4 960 1046.5 C960.8 1044.6 963.3 1038.6 965 1035 C966.7 1031.4 968.5 1028 970 1025 C971.5 1022 973.6 1019.7 974 1017 C974.4 1014.3 973.5 1011.2 972.5 1009 C971.5 1006.8 969.9 1005.3 968 1003.5 C966.1 1001.7 963.3 1000.1 961 998 C958.7 995.9 956.2 993.7 954 991 C951.8 988.3 949.6 985.5 948 982 C946.4 978.5 945.2 973.7 944.5 970 C943.8 966.3 944.1 961.7 944 960Z"/>
<path d="M945.5 960 C945.9 961.3 946.8 965.8 948 968 C949.2 970.2 951 971.8 953 973 C955 974.2 957.5 975 960 975.5 C962.5 976 965.3 975.8 968 975.8 C970.7 975.8 974.7 975.8 976 975.8"/>
<path d="M984 966 C984.3 967.7 985.3 972.7 986 976 C986.7 979.3 988.2 982 988 986 C987.8 990 986.5 995.7 985 1000 C983.5 1004.3 980.8 1009.1 979 1012 C977.2 1014.9 974.8 1016.6 974 1017.5"/>
<path d="M987.8 985.6 L1004.5 990"/>
<path d="M988.5 988 L1001.5 1000M983 1005 L993.5 1015M975 1018 L983 1027.5M967 1032 L972.5 1037.5"/>
<path d="M949 949.5 L957.5 957M963 940.5 L981 957.5M967 966 L976 974M975 971.5 L981 970.5 L983 974 L979 975.2Z"/>
<circle class="tk" cx="963" cy="958.5" r="8.3"/>
</svg>
</body></html>
